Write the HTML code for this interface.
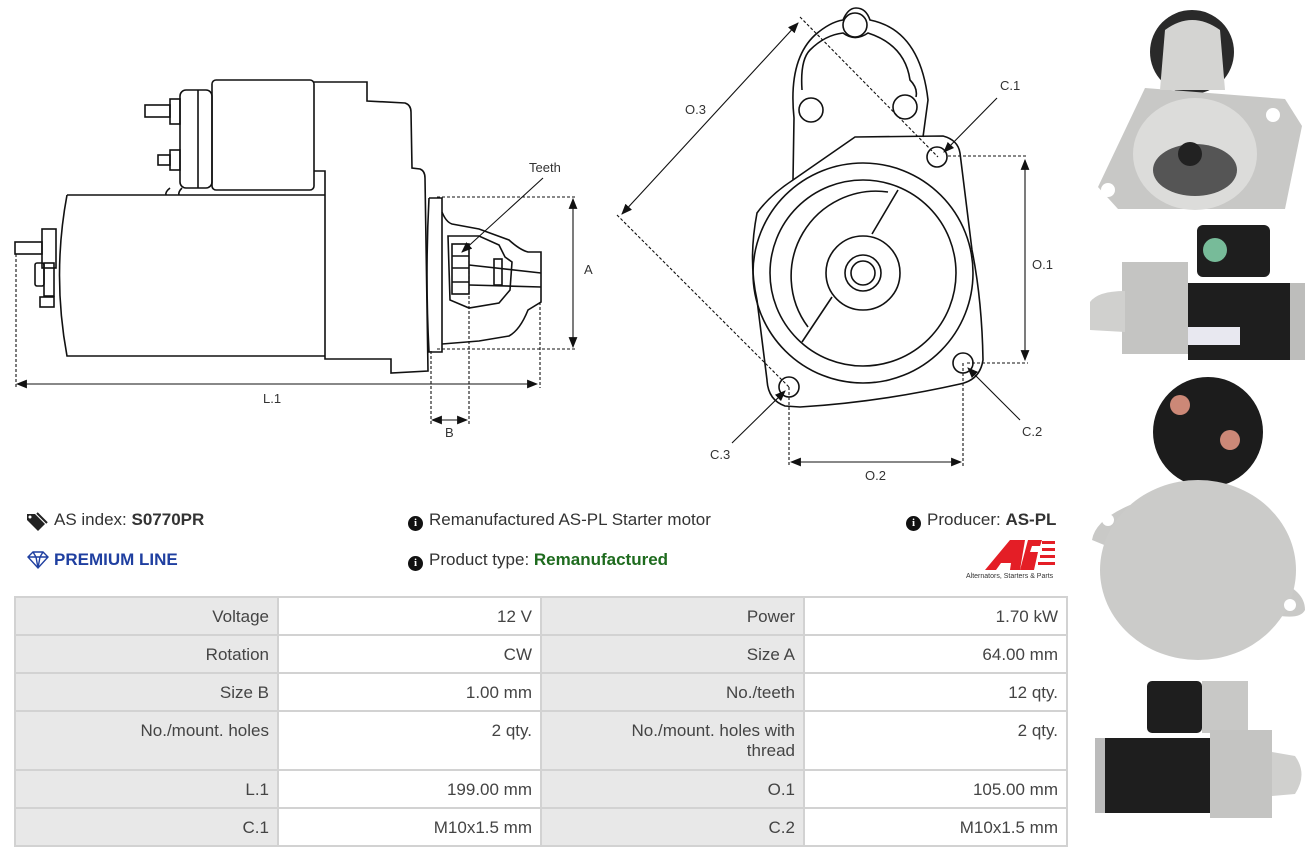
<!DOCTYPE html>
<html><head><meta charset="utf-8"><style>
body{margin:0;width:1316px;height:860px;background:#fff;position:relative;overflow:hidden;font-family:"Liberation Sans",sans-serif;color:#333}
.t{position:absolute;font-size:17px;white-space:nowrap}
.i{display:inline-block;width:15px;height:15px;border-radius:50%;background:#111;color:#fff;font-size:11px;font-weight:bold;text-align:center;line-height:15px;vertical-align:-1px;margin-right:6px;font-family:"Liberation Serif",serif}
table{position:absolute;left:14px;top:596px;border-collapse:collapse;font-size:17px;color:#444}
td{border:2px solid #d2d2d2;text-align:right;padding:0 8px 0 4px;vertical-align:top;line-height:20px}
td.l{background:#e8e8e8;width:249px}
td.v{background:#fff;width:249px}
</style></head><body>
<svg width="1316" height="860" style="position:absolute;left:0;top:0" fill="none" stroke="#111" stroke-width="1.6">
<defs><marker id="a" markerWidth="10" markerHeight="8" refX="9" refY="4" orient="auto-start-reverse"><path d="M0,0 L10,4 L0,8 z" fill="#111" stroke="none"/></marker></defs>
<!-- LEFT VIEW -->
<rect x="212" y="80" width="102" height="110" rx="4"/>
<rect x="180" y="90" width="32" height="98" rx="6"/>
<line x1="198" y1="90" x2="198" y2="188"/>
<rect x="170" y="99" width="10" height="25"/><rect x="145" y="105" width="25" height="12"/>
<rect x="170" y="150" width="10" height="20"/><rect x="158" y="155" width="12" height="10"/>
<path d="M170,188 Q165,192 166,195 M182,188 Q178,192 179,195"/>
<path d="M314,82 L367,82 L367,101 L405,103 Q411,105 411,112 L412,168 L420,169 Q425,171 425,178 L428,371 L391,373 L391,359 L325,359 L325,171 L314,171"/>
<path d="M67,195 L325,195 M67,195 Q52,275 67,356 L325,356"/>
<rect x="42" y="229" width="14" height="39"/><rect x="35" y="263" width="9" height="23" rx="2"/><rect x="44" y="263" width="10" height="33"/>
<rect x="15" y="242" width="27" height="12"/><rect x="40" y="297" width="14" height="10"/>
<path d="M429,198 L442,198 Q442,275 442,352 L429,352 Q425,275 429,198"/>
<path d="M442,212 Q446,222 452,224 L479,229 L509,240 Q520,250 528,252 L541,252 L541,302 L528,310 Q520,330 509,336 L479,341 L442,344"/>
<path d="M448,236 L479,236 L499,245 L505,257 L512,262 L510,290 L499,303 L469,308 L450,300 Z"/>
<rect x="452" y="244" width="17" height="50"/><line x1="452" y1="256" x2="469" y2="256"/><line x1="452" y1="268" x2="469" y2="268"/><line x1="452" y1="282" x2="469" y2="282"/>
<rect x="494" y="259" width="8" height="26"/><line x1="469" y1="265" x2="541" y2="273"/><line x1="469" y1="285" x2="541" y2="287"/>
<g stroke-width="1.1" stroke-dasharray="3,2">
<line x1="437" y1="197" x2="576" y2="197"/><line x1="437" y1="349" x2="576" y2="349"/>
<line x1="16" y1="254" x2="16" y2="388"/><line x1="540" y1="302" x2="540" y2="388"/>
<line x1="431" y1="351" x2="431" y2="424"/><line x1="469" y1="246" x2="469" y2="424"/>
</g>
<g stroke-width="1.1">
<line x1="573" y1="199" x2="573" y2="347" marker-start="url(#a)" marker-end="url(#a)"/>
<line x1="17" y1="384" x2="537" y2="384" marker-start="url(#a)" marker-end="url(#a)"/>
<line x1="432" y1="420" x2="467" y2="420" marker-start="url(#a)" marker-end="url(#a)"/>
<line x1="543" y1="178" x2="462" y2="252" marker-end="url(#a)"/>
</g>
<!-- RIGHT VIEW -->
<path d="M793,180 L794,118 Q788,60 815,35 Q830,22 843,20 Q848,8 856,8 Q866,8 870,20 Q920,30 928,100 L923,137"/>
<path d="M802,90 Q800,60 810,50 Q825,35 843,33 Q855,42 868,33 Q905,45 910,80 Q918,88 916,97"/>
<circle cx="855" cy="25" r="12"/><circle cx="811" cy="110" r="12"/><circle cx="905" cy="107" r="12"/>
<path d="M855,137 L943,136 Q958,140 960,153 L972,250 Q982,300 983,360 Q980,380 960,384 Q880,402 800,407 L785,406 Q768,400 767,380 L757,300 Q748,260 757,213 Q770,195 793,180 Z"/>
<circle cx="863" cy="273" r="110"/><circle cx="863" cy="273" r="93"/>
<path d="M888,192 A 85 85 0 0 0 808,327"/><path d="M898,190 L872,234 M832,297 L802,342"/>
<circle cx="863" cy="273" r="37"/><circle cx="863" cy="273" r="18"/><circle cx="863" cy="273" r="12"/>
<circle cx="937" cy="157" r="10"/><circle cx="963" cy="363" r="10"/><circle cx="789" cy="387" r="10"/>
<g stroke-width="1.1" stroke-dasharray="3,2">
<line x1="800" y1="17" x2="938" y2="157"/><line x1="617" y1="215" x2="789" y2="387"/>
<line x1="948" y1="156" x2="1028" y2="156"/><line x1="967" y1="363" x2="1028" y2="363"/>
<line x1="789" y1="387" x2="789" y2="467"/><line x1="963" y1="363" x2="963" y2="467"/>
</g>
<g stroke-width="1.1">
<line x1="798" y1="23" x2="622" y2="214" marker-start="url(#a)" marker-end="url(#a)"/>
<line x1="1025" y1="160" x2="1025" y2="360" marker-start="url(#a)" marker-end="url(#a)"/>
<line x1="791" y1="462" x2="961" y2="462" marker-start="url(#a)" marker-end="url(#a)"/>
<line x1="997" y1="98" x2="944" y2="152" marker-end="url(#a)"/>
<line x1="1020" y1="420" x2="968" y2="368" marker-end="url(#a)"/>
<line x1="732" y1="443" x2="785" y2="391" marker-end="url(#a)"/>
</g>
<!-- PHOTOS -->
<g stroke="none">
<circle cx="1192" cy="52" r="42" fill="#2a2a2a"/>
<path d="M1098,187 L1145,88 L1285,99 L1302,126 L1285,209 L1118,209 Z" fill="#c8c8c6"/>
<path d="M1165,30 Q1192,10 1220,30 L1225,90 L1160,90 Z" fill="#d4d4d2"/>
<ellipse cx="1195" cy="154" rx="62" ry="56" fill="#dcdcda"/>
<ellipse cx="1195" cy="170" rx="42" ry="26" fill="#555"/>
<circle cx="1190" cy="154" r="12" fill="#222"/>
<circle cx="1273" cy="115" r="7" fill="#fff"/><circle cx="1108" cy="190" r="7" fill="#fff"/>
<rect x="1197" y="225" width="73" height="52" rx="6" fill="#1e1e1e"/>
<circle cx="1215" cy="250" r="12" fill="#7b9"/>
<rect x="1122" y="262" width="66" height="92" fill="#c4c4c2"/>
<rect x="1188" y="283" width="102" height="77" fill="#1e1e1e"/>
<rect x="1188" y="327" width="52" height="18" fill="#e8e8f0"/>
<rect x="1290" y="283" width="15" height="77" fill="#bdbdbb"/>
<path d="M1090,302 Q1098,291 1125,291 L1125,332 L1090,330 Z" fill="#d0d0ce"/>
<circle cx="1208" cy="432" r="55" fill="#1c1c1c"/>
<circle cx="1180" cy="405" r="10" fill="#c87"/><circle cx="1230" cy="440" r="10" fill="#c87"/>
<path d="M1092,540 Q1095,520 1130,505 L1275,580 Q1305,590 1305,610 Q1300,620 1275,615 Z" fill="#c9c9c7"/>
<ellipse cx="1198" cy="570" rx="98" ry="90" fill="#cbcbc9"/>
<circle cx="1108" cy="520" r="6" fill="#fff"/><circle cx="1290" cy="605" r="6" fill="#fff"/>
<rect x="1147" y="681" width="55" height="52" rx="5" fill="#1e1e1e"/>
<rect x="1202" y="681" width="46" height="52" fill="#c8c8c6"/>
<rect x="1105" y="738" width="105" height="75" fill="#1e1e1e"/>
<rect x="1210" y="730" width="62" height="88" fill="#c4c4c2"/>
<path d="M1272,752 L1295,756 Q1308,774 1295,794 L1272,796 Z" fill="#d0d0ce"/>
<rect x="1095" y="738" width="10" height="75" fill="#bbb"/>
<!-- AS logo -->
<path d="M985,570 L1010,540 L1025,540 L1020,570 L1010,570 L1011,563 L1001,563 L996,570 Z" fill="#e41e26"/>
<path d="M1028,540 L1042,540 L1040,546 L1032,546 L1030,552 L1038,552 L1034,570 L1020,570 Z" fill="#e41e26"/>
<g fill="#e41e26"><rect x="1042" y="541" width="13" height="3"/><rect x="1042" y="548" width="13" height="3"/><rect x="1040" y="555" width="15" height="3"/><rect x="1038" y="562" width="17" height="3"/></g>
<!-- tag icon -->
<path d="M27,514 L35,514 L45,524 L38,531 L27,520 Z" fill="#222"/>
<path d="M37,513 L47,523" stroke="#222" stroke-width="2"/>
<circle cx="30" cy="517" r="1.5" fill="#fff"/>
<!-- diamond icon -->
<path d="M28,557 L33,552 L43,552 L48,557 L38,568 Z M28,557 L48,557 M33,552 L36,557 L38,568 M43,552 L40,557 L38,568" stroke="#1f3fa0" stroke-width="1.4" fill="none"/>
</g>
</svg>
<div class="t" style="left:529px;top:160px;font-size:13px">Teeth</div>
<div class="t" style="left:584px;top:262px;font-size:13px">A</div>
<div class="t" style="left:263px;top:391px;font-size:13px">L.1</div>
<div class="t" style="left:445px;top:425px;font-size:13px">B</div>
<div class="t" style="left:685px;top:102px;font-size:13px">O.3</div>
<div class="t" style="left:1000px;top:78px;font-size:13px">C.1</div>
<div class="t" style="left:1032px;top:257px;font-size:13px">O.1</div>
<div class="t" style="left:1022px;top:424px;font-size:13px">C.2</div>
<div class="t" style="left:710px;top:447px;font-size:13px">C.3</div>
<div class="t" style="left:865px;top:468px;font-size:13px">O.2</div>
<div class="t" style="left:54px;top:510px">AS index: <b>S0770PR</b></div>
<div class="t" style="left:54px;top:550px;color:#1f3fa0;font-weight:bold">PREMIUM LINE</div>
<div class="t" style="left:408px;top:510px"><span class="i">i</span>Remanufactured AS-PL Starter motor</div>
<div class="t" style="left:408px;top:550px"><span class="i">i</span>Product type: <b style="color:#1e6b1e">Remanufactured</b></div>
<div class="t" style="left:906px;top:510px"><span class="i">i</span>Producer: <b>AS-PL</b></div>
<div class="t" style="left:966px;top:573px;font-size:7px;color:#333">Alternators, Starters &amp; Parts</div>
<table>
<tr style="height:38px"><td class="l" style="padding-top:9px">Voltage</td><td class="v" style="padding-top:9px">12 V</td><td class="l" style="padding-top:9px">Power</td><td class="v" style="padding-top:9px">1.70 kW</td></tr>
<tr style="height:38px"><td class="l" style="padding-top:9px">Rotation</td><td class="v" style="padding-top:9px">CW</td><td class="l" style="padding-top:9px">Size A</td><td class="v" style="padding-top:9px">64.00 mm</td></tr>
<tr style="height:38px"><td class="l" style="padding-top:9px">Size B</td><td class="v" style="padding-top:9px">1.00 mm</td><td class="l" style="padding-top:9px">No./teeth</td><td class="v" style="padding-top:9px">12 qty.</td></tr>
<tr style="height:59px"><td class="l" style="padding-top:9px">No./mount. holes</td><td class="v" style="padding-top:9px">2 qty.</td><td class="l" style="padding-top:9px">No./mount. holes with<br>thread</td><td class="v" style="padding-top:9px">2 qty.</td></tr>
<tr style="height:38px"><td class="l" style="padding-top:9px">L.1</td><td class="v" style="padding-top:9px">199.00 mm</td><td class="l" style="padding-top:9px">O.1</td><td class="v" style="padding-top:9px">105.00 mm</td></tr>
<tr style="height:38px"><td class="l" style="padding-top:9px">C.1</td><td class="v" style="padding-top:9px">M10x1.5 mm</td><td class="l" style="padding-top:9px">C.2</td><td class="v" style="padding-top:9px">M10x1.5 mm</td></tr>
</table>
</body></html>
